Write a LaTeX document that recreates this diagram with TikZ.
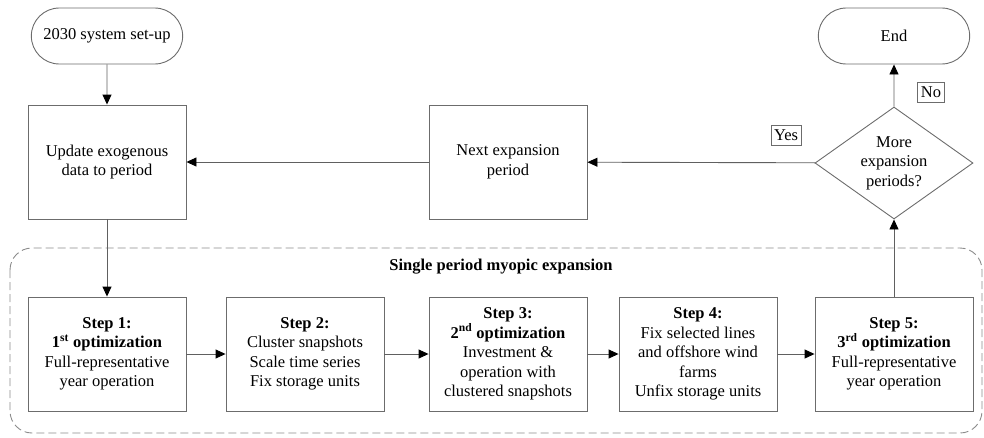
\documentclass[tikz,border=0pt]{standalone}
\usepackage{fontspec}
\setmainfont{Liberation Serif}
\usepackage{tikz}
\usetikzlibrary{shapes.geometric,shapes.misc,arrows.meta}

\begin{document}
\begin{tikzpicture}[x=1pt,y=-1pt,line width=0.9pt,font=\fontsize{16.5}{19.5}\selectfont]
	\tikzstyle{box}=[draw=gray!85!black,rectangle,minimum width=158pt,minimum height=114pt,align=center,inner sep=1pt]
	\tikzstyle{term}=[draw=gray!85!black,rounded rectangle,minimum width=158pt,minimum height=56pt]
	\tikzstyle{decide}=[draw=gray!85!black,diamond,minimum width=158pt,minimum height=112pt,aspect=1.41,align=center,inner sep=0pt]
	\tikzstyle{tag}=[draw=gray!85!black,rectangle,inner sep=3pt,minimum height=20pt]
	\tikzstyle{flow}=[draw=gray!75!black,-{Triangle[length=10pt,width=9pt,fill=black,color=black]}]
	\useasboundingbox (0,0) rectangle (984,437);
	\draw[gray!90,dashed,dash pattern=on 8pt off 4pt,rounded corners=22pt] (10,248) rectangle (982,433);
	\node (title) at (501,267) {\textbf{Single period myopic expansion}};
	\node[term] (start) at (107,36) {2030 system set-up};
	\node[box] (update) at (107,162) {Update exogenous\\data to period};
	\node[box] (next) at (508,162) {Next expansion\\period};
	\node[decide] (more) at (894,163) {More\\expansion\\periods?};
	\node[term] (end) at (894,36) {End};
	\node[tag] (no) at (931,92) {No};
	\node[tag] (yes) at (786,135) {Yes};
	\node[box] (s1) at (107,354) {\textbf{Step 1:}\\\textbf{1\textsuperscript{st} optimization}\\Full-representative\\year operation};
	\node[box] (s2) at (305,354) {\textbf{Step 2:}\\Cluster snapshots\\Scale time series\\Fix storage units};
	\node[box] (s3) at (508,354) {\textbf{Step 3:}\\\textbf{2\textsuperscript{nd} optimization}\\Investment \&\\operation with\\clustered snapshots};
	\node[box] (s4) at (698,354) {\textbf{Step 4:}\\Fix selected lines\\and offshore wind\\farms\\Unfix storage units};
	\node[box] (s5) at (894,354) {\textbf{Step 5:}\\\textbf{3\textsuperscript{rd} optimization}\\Full-representative\\year operation};
	\draw[flow] (start) -- (update);
	\draw[flow] (next) -- (update);
	\draw[flow] (more) -- (next);
	\draw[flow] (more) -- (end);
	\draw[flow] (update) -- (s1);
	\draw[flow] (s1) -- (s2);
	\draw[flow] (s2) -- (s3);
	\draw[flow] (s3) -- (s4);
	\draw[flow] (s4) -- (s5);
	\draw[flow] (s5) -- (more);
\end{tikzpicture}
\end{document}
